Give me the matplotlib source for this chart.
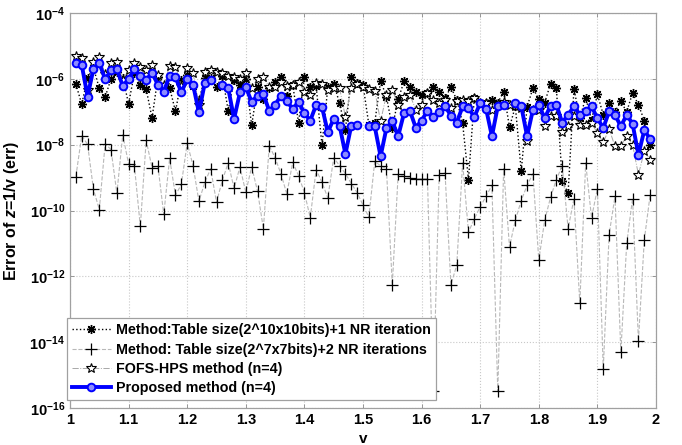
import numpy as np
import matplotlib
matplotlib.use("Agg")
import matplotlib.pyplot as plt

plt.rcParams['font.family'] = ['Liberation Sans', 'DejaVu Sans']
plt.rcParams['font.weight'] = 'bold'
plt.rcParams['mathtext.fontset'] = 'custom'
plt.rcParams['mathtext.rm'] = 'Liberation Sans:bold'
plt.rcParams['mathtext.it'] = 'Liberation Sans:italic:bold'
plt.rcParams['mathtext.bf'] = 'Liberation Sans:bold'

# x values: 1.01 ... 1.99
v = np.round(np.arange(101, 200) / 100, 2)

# Method: Table size(2^10x10bits)+1 NR iteration
err_table10 = [
    6.9e-7, 1.71e-7, 1.07e-6, 2.15e-6, 5.2e-7, 2.8e-7, 1.0e-6, 1.63e-6, 1.07e-6, 1.75e-7,
    1.52e-6, 6.6e-7, 4.9e-7, 6.4e-8, 1.13e-6, 5.8e-7, 5.4e-7, 1.02e-7, 9.3e-7, 1.32e-6,
    6.1e-7, 2.3e-7, 1.07e-6, 1.07e-6, 5.6e-7, 1.23e-6, 1.07e-7, 9.3e-7, 6.6e-7, 1.0e-6,
    3.85e-8, 5.6e-7, 2.4e-7, 5.2e-7, 8.1e-7, 1.13e-6, 3.1e-7, 6.6e-7, 4.7e-8, 1.13e-6,
    5.8e-7, 6.1e-7, 9.5e-9, 5.6e-7, 7.1e-7, 1.84e-7, 2.85e-8, 1.13e-6, 7.7e-7, 6.6e-7,
    4.0e-8, 4.6e-8, 8.7e-7, 2.9e-7, 3.3e-8, 2.4e-7, 8.3e-7, 5.6e-7, 4.1e-7, 3.3e-7,
    3.7e-7, 5.6e-7, 4.0e-7, 2.6e-7, 5.6e-7, 2.3e-7, 4.5e-8, 8.7e-10, 2.7e-7, 1.87e-7,
    1.87e-7, 2.3e-7, 1.87e-7, 4.1e-7, 3.4e-8, 1.45e-7, 1.55e-9, 1.42e-7, 5.2e-7, 2.4e-7,
    1.87e-7, 7.1e-7, 5.2e-7, 7.7e-10, 3.4e-10, 4.9e-7, 6.4e-8, 2.65e-7, 5.7e-8, 3.4e-7,
    8.1e-8, 1.9e-7, 1.0e-7, 2.05e-7, 1.0e-7, 3.7e-7, 1.63e-7, 5.4e-8, 1.0e-8,
]

# Method: Table size(2^7x7bits)+2 NR iterations
err_table7 = [
    1.07e-9, 1.86e-8, 1.02e-8, 4.4e-10, 1.07e-10, 1.07e-8, 7.1e-9, 3.3e-10, 2.0e-8, 2.6e-9,
    2.2e-9, 3.3e-11, 1.35e-8, 2.0e-9, 2.3e-9, 7.6e-11, 3.8e-9, 2.9e-10, 6.2e-10, 1.12e-8,
    2.3e-9, 1.9e-10, 7.1e-10, 1.86e-9, 1.78e-10, 8.3e-10, 2.8e-9, 4.7e-10, 2.1e-9, 3.6e-10,
    2.1e-9, 3.9e-10, 2.8e-11, 9.3e-9, 4.0e-9, 1.29e-9, 3.2e-10, 2.9e-9, 1.15e-9, 3.5e-10,
    6.0e-11, 1.74e-9, 7.2e-10, 2.4e-10, 4.0e-9, 2.3e-9, 1.32e-9, 6.6e-10, 3.5e-10, 1.45e-10,
    6.3e-11, 3.1e-9, 2.3e-9, 1.86e-9, 5.5e-13, 1.29e-9, 1.1e-9, 9.8e-10, 9.1e-10, 9.1e-10,
    9.1e-10, 3.2e-16, 1.23e-9, 1.38e-9, 5.5e-13, 2.2e-12, 2.8e-9, 2.2e-11, 5.6e-11, 1.29e-10,
    2.7e-10, 5.8e-10, 3.2e-16, 1.86e-9, 7.9e-12, 5.1e-11, 2.0e-10, 5.8e-10, 1.32e-9, 3.1e-12,
    5.0e-11, 2.5e-10, 8.7e-10, 2.3e-9, 2.8e-11, 2.3e-10, 1.5e-13, 2.8e-9, 6.0e-11, 4.6e-10,
    1.5e-15, 1.86e-11, 2.7e-10, 4.9e-15, 1.0e-11, 2.3e-10, 1.1e-14, 1.26e-11, 3.0e-10,
]

# FOFS-HPS method (n=4)
err_fofs = [
    4.97e-6, 4.24e-6, 4.6e-7, 3.2e-6, 4.7e-6, 1.42e-6, 3.1e-6, 3.3e-6, 9.3e-7, 1.87e-6,
    3.1e-6, 2.36e-6, 1.87e-6, 2.65e-6, 1.32e-6, 6.6e-7, 2.48e-6, 2.36e-6, 6.1e-7, 2.1e-6,
    1.49e-6, 1.63e-7, 1.66e-6, 1.87e-6, 1.63e-6, 1.55e-6, 1.23e-6, 1.17e-6, 1.0e-6, 1.55e-6,
    5.3e-7, 1.0e-6, 1.13e-6, 5.7e-7, 5.7e-7, 8.1e-7, 6.1e-7, 6.6e-7, 8.1e-7, 4.1e-7,
    3.3e-7, 7.4e-7, 7.1e-7, 4.6e-7, 5.3e-7, 5.2e-7, 7.0e-8, 5.2e-7, 7.1e-7, 5.6e-7,
    4.9e-7, 4.4e-7, 5.1e-8, 3.3e-7, 4.6e-7, 1.63e-7, 2.9e-7, 3.3e-7, 1.15e-7, 1.63e-7,
    3.7e-7, 2.2e-7, 1.84e-7, 2.3e-7, 1.3e-7, 2.05e-7, 2.3e-7, 2.05e-7, 2.6e-7, 1.84e-7,
    1.84e-7, 1.15e-7, 1.75e-7, 2.0e-7, 1.63e-7, 1.5e-7, 1.32e-7, 1.26e-8, 1.15e-7, 1.15e-7,
    3.8e-8, 7.6e-8, 7.6e-8, 2.4e-8, 3.6e-8, 7.2e-8, 4.0e-8, 4.0e-8, 4.5e-8, 2.26e-8,
    1.17e-8, 3.0e-8, 8.9e-9, 8.9e-9, 1.87e-8, 1.0e-8, 1.23e-9, 6.3e-9, 3.5e-9,
]

# Proposed method (n=4); nan = not plotted (zero error)
nan = float('nan')
err_proposed = [
    3.1e-6, 2.65e-6, 2.9e-7, 2.0e-6, 3.0e-6, 9.8e-7, 1.8e-6, 1.97e-6, 6.1e-7, 9.8e-7,
    2.0e-6, 1.23e-6, 9.3e-7, 1.55e-6, 6.6e-7, 4.1e-7, 1.23e-6, 1.13e-6, 3.85e-7, 9.8e-7,
    6.6e-7, 9.5e-8, 7.4e-7, 8.9e-7, nan, 6.3e-7, 5.2e-7, 6.1e-8, 3.85e-7, 5.6e-7,
    2.0e-7, 3.1e-7, 3.4e-7, 1.07e-7, 1.63e-7, 3.1e-7, 2.15e-7, 1.2e-7, 2.0e-7, 9.1e-8,
    5.4e-8, 1.6e-7, 1.39e-7, 2.4e-8, 6.1e-8, 3.8e-8, 5.2e-9, 3.8e-8, 4.0e-8, nan,
    3.6e-8, 3.6e-8, 4.4e-9, 3.2e-8, 5.1e-8, 1.8e-8, 9.1e-8, 1.07e-7, 3.3e-8, 5.4e-8,
    1.07e-7, 6.9e-8, 9.5e-8, 1.5e-7, 7.6e-8, 4.7e-8, 1.45e-7, 1.3e-7, 6.9e-8, 1.84e-7,
    1.23e-7, 1.8e-8, 1.45e-7, 1.63e-7, nan, 1.84e-7, 1.5e-7, 1.8e-8, 1.15e-7, 1.63e-7,
    6.4e-8, 1.5e-7, 1.63e-7, 4.7e-8, 8.1e-8, 1.45e-7, 8.1e-8, 1.02e-7, 1.45e-7, 6.4e-8,
    3.2e-8, 1.02e-7, 8.1e-8, 3.6e-8, 8.1e-8, 4.3e-8, 5.0e-9, 2.7e-8, 1.5e-8,
]

labels = [
    'Method:Table size(2^10x10bits)+1 NR iteration',
    'Method: Table size(2^7x7bits)+2 NR iterations',
    'FOFS-HPS method (n=4)',
    'Proposed method (n=4)',
]
x_ticks = [1, 1.1, 1.2, 1.3, 1.4, 1.5, 1.6, 1.7, 1.8, 1.9, 2]
x_ticklabels = ['1', '1.1', '1.2', '1.3', '1.4', '1.5', '1.6', '1.7', '1.8', '1.9', '2']
y_exps = [-16, -14, -12, -10, -8, -6, -4]

fig = plt.figure(figsize=(6.82, 4.45), dpi=100)
ax = fig.add_axes([70/682, 1 - 408/445, 586/682, 395/445])

ax.semilogy(v, err_table10, color='black', linestyle=':', linewidth=1.0,
            marker=(8, 2, 0), markersize=6.5, markeredgewidth=1.0, label=labels[0])
ax.semilogy(v, err_table7, color='#b8b8b8', linestyle='--', linewidth=0.8,
            marker='+', markersize=8, markeredgecolor='black', markeredgewidth=0.9,
            label=labels[1])
ax.semilogy(v, err_fofs, color='#a8a8a8', linestyle='-.', linewidth=0.7,
            marker='*', markersize=7.5, markerfacecolor='white', markeredgecolor='black',
            markeredgewidth=0.8, label=labels[2])
ax.semilogy(v, err_proposed, color='#0000ff', linestyle='-', linewidth=2.8,
            marker='o', markersize=5.5, markerfacecolor='#8c8cff', markeredgecolor='#0000ff',
            markeredgewidth=1.4, label=labels[3])

ax.set_xlim(1, 2)
ax.set_ylim(1e-16, 1e-4)
ax.set_xticks(x_ticks)
ax.set_xticklabels(x_ticklabels)
ax.set_yticks([10.0**e for e in y_exps])
ax.set_yticklabels([r'$10^{%d}$' % e for e in y_exps])
ax.yaxis.set_minor_locator(matplotlib.ticker.NullLocator())
ax.tick_params(axis='both', direction='in', length=3, labelsize=10.5, width=0.6,
               top=True, right=True, colors='#888888', labelcolor='black')
ax.grid(True, which='major', linestyle=':', color='#c8c8c8', linewidth=0.8)
for s in ax.spines.values():
    s.set_color('#a0a0a0')
    s.set_linewidth(0.9)

ax.set_xlabel('v', fontsize=11, fontweight='bold', labelpad=4)
ax.set_ylabel(r'Error of $z$=1/v (err)', fontsize=11.5, fontweight='bold', labelpad=6)

leg = ax.legend(loc='lower left', bbox_to_anchor=(-0.005, 0.02), borderaxespad=0,
                fontsize=10.3, frameon=True, fancybox=False, framealpha=1,
                edgecolor='#a0a0a0', handlelength=2.7, handletextpad=0.35,
                labelspacing=0.37, borderpad=0.35)
leg.get_frame().set_linewidth(0.9)

fig.savefig('out.png', dpi=100)
